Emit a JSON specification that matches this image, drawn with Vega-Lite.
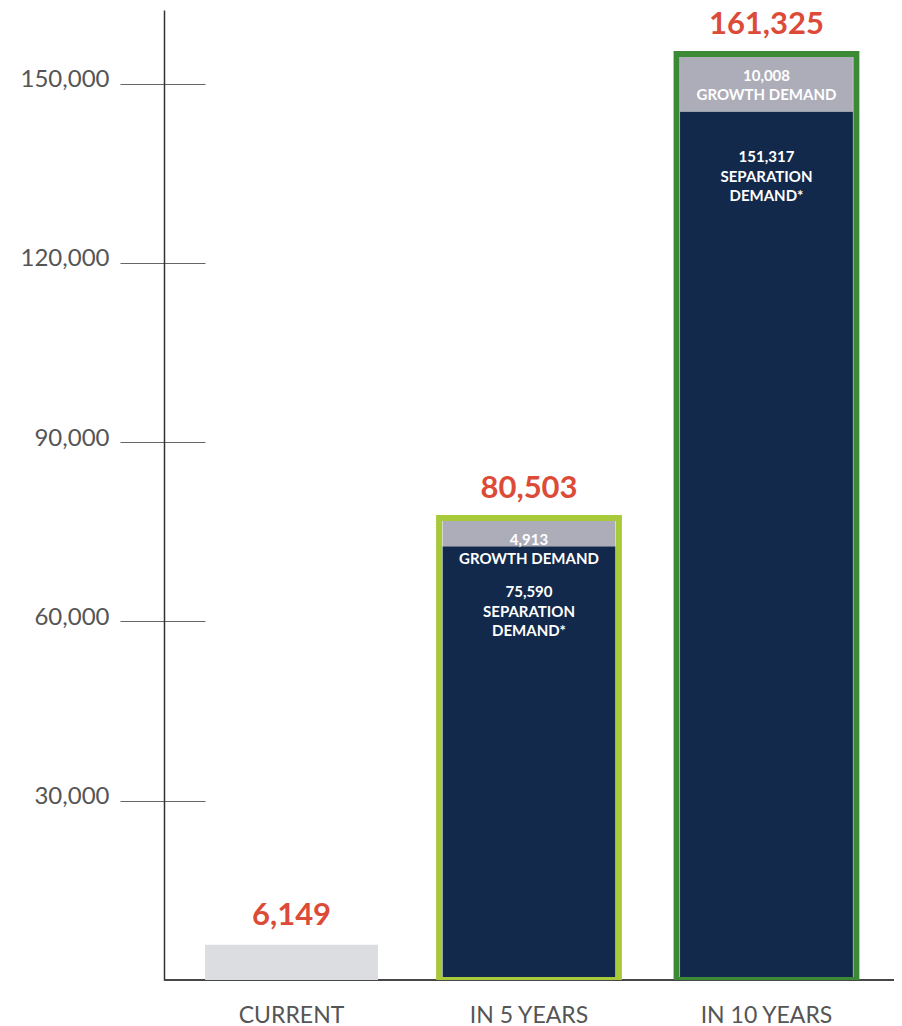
{
  "$schema": "https://vega.github.io/schema/vega-lite/v6.json",
  "width": 730,
  "height": 970,
  "autosize": {"type": "none"},
  "padding": {"left": 164, "top": 10, "right": 8, "bottom": 46},
  "background": "white",
  "config": {
    "view": {"stroke": null},
    "font": "Lato",
    "axis": {"grid": false}
  },
  "data": {
    "values": [
      {"period": "CURRENT", "total": 6149, "separation": null, "growth": null},
      {"period": "IN 5 YEARS", "total": 80503, "separation": 75590, "growth": 4913},
      {"period": "IN 10 YEARS", "total": 161325, "separation": 151317, "growth": 10008}
    ]
  },
  "layer": [
    {
      "mark": {"type": "rule", "color": "#444444", "strokeWidth": 1.5},
      "encoding": {
        "y": {
          "datum": 0,
          "type": "quantitative",
          "scale": {"domain": [0, 162340], "nice": false, "zero": true},
          "axis": {
            "orient": "left",
            "offset": -41,
            "domain": false,
            "grid": false,
            "values": [30000, 60000, 90000, 120000, 150000],
            "labelExpr": "format(datum.value, ',')",
            "tickSize": 85,
            "tickColor": "#666666",
            "tickWidth": 1,
            "labelPadding": 11,
            "labelFont": "Lato",
            "labelFontSize": 24,
            "labelColor": "#555555",
            "labelBaseline": "alphabetic",
            "labelOffset": 3,
            "title": null
          }
        }
      }
    },
    {
      "encoding": {
        "x": {
          "field": "period",
          "type": "nominal",
          "sort": ["CURRENT", "IN 5 YEARS", "IN 10 YEARS"],
          "scale": {"paddingInner": 0.272, "paddingOuter": 0.173},
          "axis": {
            "orient": "bottom",
            "domain": false,
            "ticks": false,
            "tickSize": 0,
            "labelPadding": 24,
            "labelAngle": 0,
            "labelFont": "Lato",
            "labelFontSize": 23,
            "labelColor": "#555555",
            "title": null
          }
        }
      },
      "layer": [
        {
          "transform": [{"filter": "datum.period == 'CURRENT'"}],
          "mark": {"type": "bar", "color": "#dcdde1"},
          "encoding": {
            "y": {"field": "total", "type": "quantitative", "scale": {"domain": [0, 169000], "nice": false, "zero": true}, "axis": null}
          }
        },
        {
          "transform": [{"filter": "isValid(datum.separation)"}],
          "mark": {"type": "bar", "color": "#12294b"},
          "encoding": {
            "y": {"field": "separation", "type": "quantitative", "scale": {"domain": [0, 169000], "nice": false, "zero": true}, "axis": null}
          }
        },
        {
          "transform": [{"filter": "isValid(datum.separation)"}],
          "mark": {"type": "bar", "color": "#adadb9"},
          "encoding": {
            "y": {"field": "total", "type": "quantitative", "scale": {"domain": [0, 169000], "nice": false, "zero": true}, "axis": null},
            "y2": {"field": "separation"}
          }
        },
        {
          "transform": [{"filter": "isValid(datum.separation)"}],
          "mark": {"type": "bar", "fill": "transparent", "strokeWidth": 6, "clip": true, "width": {"band": 1.04}},
          "encoding": {
            "y": {"field": "total", "type": "quantitative", "scale": {"domain": [0, 169000], "nice": false, "zero": true}, "axis": null},
            "stroke": {
              "field": "period",
              "type": "nominal",
              "scale": {"domain": ["IN 5 YEARS", "IN 10 YEARS"], "range": ["#a8c93a", "#3d8a36"]},
              "legend": null
            }
          }
        },
        {
          "transform": [{"filter": "isValid(datum.growth)"}],
          "mark": {"type": "text", "font": "Lato", "fontSize": 15, "fontWeight": "bold", "letterSpacing": 1, "color": "white", "align": "center", "baseline": "middle", "dy": 22},
          "encoding": {
            "y": {"field": "total", "type": "quantitative", "scale": {"domain": [0, 169000], "nice": false, "zero": true}, "axis": null},
            "text": {"field": "growth", "type": "quantitative", "format": ","}
          }
        },
        {
          "transform": [{"filter": "isValid(datum.growth)"}],
          "mark": {"type": "text", "text": "GROWTH DEMAND", "font": "Lato", "fontSize": 15, "fontWeight": "bold", "letterSpacing": 1, "color": "white", "align": "center", "baseline": "middle", "dy": 41},
          "encoding": {
            "y": {"field": "total", "type": "quantitative", "scale": {"domain": [0, 169000], "nice": false, "zero": true}, "axis": null}
          }
        },
        {
          "transform": [{"filter": "isValid(datum.separation)"}],
          "mark": {"type": "text", "font": "Lato", "fontSize": 15, "fontWeight": "bold", "letterSpacing": 1, "color": "white", "align": "center", "baseline": "middle", "dy": 46},
          "encoding": {
            "y": {"field": "separation", "type": "quantitative", "scale": {"domain": [0, 169000], "nice": false, "zero": true}, "axis": null},
            "text": {"field": "separation", "type": "quantitative", "format": ","}
          }
        },
        {
          "transform": [{"filter": "isValid(datum.separation)"}],
          "mark": {"type": "text", "text": "SEPARATION", "font": "Lato", "fontSize": 15, "fontWeight": "bold", "letterSpacing": 1, "color": "white", "align": "center", "baseline": "middle", "dy": 66},
          "encoding": {
            "y": {"field": "separation", "type": "quantitative", "scale": {"domain": [0, 169000], "nice": false, "zero": true}, "axis": null}
          }
        },
        {
          "transform": [{"filter": "isValid(datum.separation)"}],
          "mark": {"type": "text", "text": "DEMAND*", "font": "Lato", "fontSize": 15, "fontWeight": "bold", "letterSpacing": 1, "color": "white", "align": "center", "baseline": "middle", "dy": 85},
          "encoding": {
            "y": {"field": "separation", "type": "quantitative", "scale": {"domain": [0, 169000], "nice": false, "zero": true}, "axis": null}
          }
        }
      ]
    },
    {
      "mark": {"type": "text", "font": "Lato", "fontSize": 31, "fontWeight": "bold", "color": "#dc4b38", "align": "center", "baseline": "alphabetic", "dy": -20},
      "encoding": {
        "x": {
          "field": "period",
          "type": "nominal",
          "sort": ["CURRENT", "IN 5 YEARS", "IN 10 YEARS"],
          "scale": {"paddingInner": 0.272, "paddingOuter": 0.173}
        },
        "y": {
          "field": "total",
          "type": "quantitative",
          "scale": {"domain": [0, 169000], "nice": false, "zero": true},
          "axis": {
            "orient": "left",
            "domain": true,
            "domainColor": "#333333",
            "domainWidth": 1.5,
            "ticks": false,
            "labels": false,
            "grid": false,
            "title": null
          }
        },
        "text": {"field": "total", "type": "quantitative", "format": ","}
      }
    }
  ],
  "resolve": {"scale": {"y": "independent"}, "axis": {"y": "independent"}}
}
